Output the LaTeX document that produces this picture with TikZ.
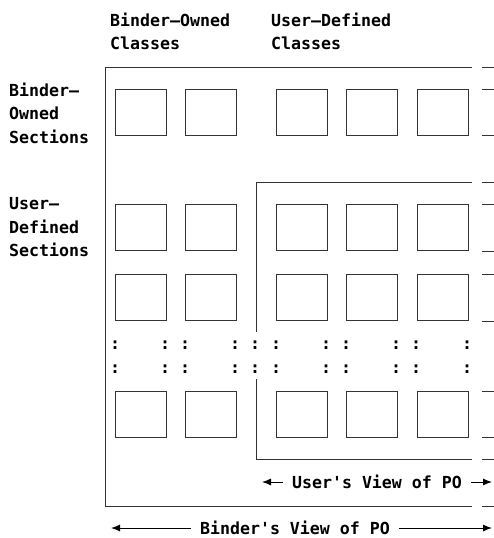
\documentclass[tikz,border=0pt]{standalone}
\usepackage{fontspec}
\setmonofont{DejaVu Sans Mono}
\usepackage{tikz}
\usetikzlibrary{arrows.meta}
\tikzstyle{cell} = [rectangle, draw=black!80, line width=1pt, minimum width=51pt, minimum height=46pt, inner sep=0pt]
\tikzstyle{rule} = [draw=black!80, line width=1pt]
\tikzstyle{heading} = [font=\fontsize{16.6pt}{23.5pt}\selectfont\ttfamily\bfseries, align=left, anchor=north west, inner sep=0pt]
\tikzstyle{dots} = [font=\fontsize{16.6pt}{23.5pt}\selectfont\ttfamily\bfseries, inner sep=0pt]
\tikzstyle{viewtext} = [font=\fontsize{16.6pt}{23.5pt}\selectfont\ttfamily\bfseries, inner xsep=9pt, inner ysep=0pt]
\tikzstyle{arrowline} = [draw=black, line width=1pt, -{Latex[length=9pt,width=7pt]}]

\begin{document}
\begin{tikzpicture} [x=1pt, y=-1pt]
\useasboundingbox (0,0) rectangle (494,538);
% Headings
\node [heading] (binderclasses) at (110,12.5) {Binder—Owned\\Classes};
\node [heading] (userclasses) at (271,12.5) {User—Defined\\Classes};
\node [heading] (bindersections) at (9,82.5) {Binder—\\Owned\\Sections};
\node [heading] (usersections) at (9,197.5) {User—\\Defined\\Sections};
% Frames
\draw [rule] (472,67) -- (105,67) -- (105,506) -- (472,506);
\draw [rule] (472,182) -- (256,182) -- (256,332);
\draw [rule] (256,379) -- (256,459) -- (472,459);
\foreach \y in {67,89,135,182,204,251,274,321,391,437,459,506}
  \draw [rule] (482,\y) -- (494,\y);
% Place nodes
\foreach \y [count=\r] in {112,227.5,297.5,414} {
  \foreach \x [count=\c] in {140.5,210.5,301.5,371.5,442.5}
    \node [cell] (box\r\c) at (\x,\y) {};
}
\foreach \y [count=\r] in {345,369} {
  \foreach \x [count=\c] in {115,165,185,235,255,276,326,346,396,416,467}
    \node [dots] (dot\r-\c) at (\x,\y) {:};
}
% Views
\node [viewtext] (userview) at (377,482) {User's View of PO};
\coordinate (userleft) at (262,482);
\coordinate (userright) at (492,482);
\path [arrowline] (userview.west) -- (userleft);
\path [arrowline] (userview.east) -- (userright);
\node [viewtext] (binderview) at (295,528) {Binder's View of PO};
\coordinate (binderleft) at (111,528);
\coordinate (binderright) at (492,528);
\path [arrowline] (binderview.west) -- (binderleft);
\path [arrowline] (binderview.east) -- (binderright);

\end{tikzpicture}
\end{document}
